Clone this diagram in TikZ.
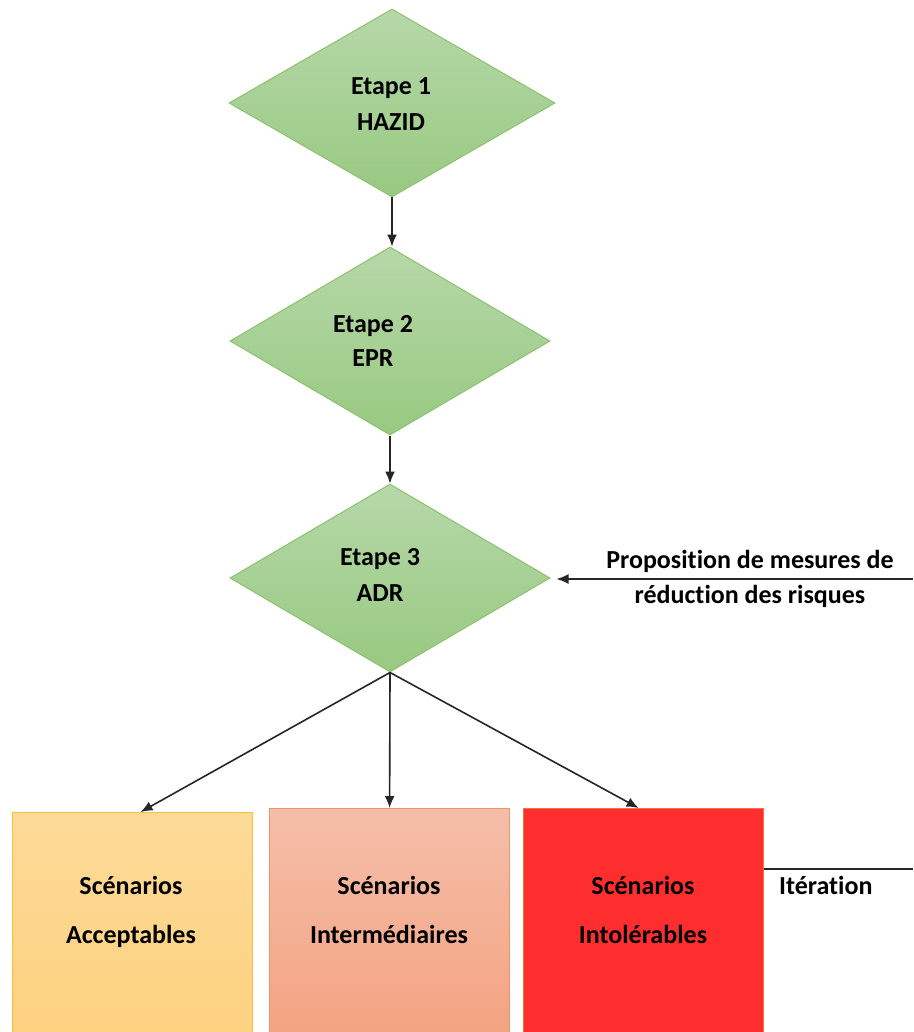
\documentclass[tikz,border=0pt]{standalone}
\usepackage{fontspec}
\setmainfont{Carlito}[Ligatures={NoCommon}]
\usetikzlibrary{shapes.geometric,arrows.meta}
\definecolor{gtop}{HTML}{B6D8A9}
\definecolor{gbot}{HTML}{98C981}
\definecolor{gline}{HTML}{8CC16E}
\definecolor{ytop}{HTML}{FDDA98}
\definecolor{ybot}{HTML}{FDD17E}
\definecolor{yline}{HTML}{F6C23E}
\definecolor{otop}{HTML}{F5BEA9}
\definecolor{obot}{HTML}{F3A27F}
\definecolor{oline}{HTML}{EE9466}
\definecolor{rfill}{HTML}{FF2E2E}
\definecolor{rline}{HTML}{F0743A}
\definecolor{aline}{HTML}{262626}
\begin{document}
\begin{tikzpicture}[x=1pt,y=-1pt,
  txt/.style={font=\bfseries\fontsize{26}{31}\selectfont, align=center, inner sep=0pt},
  dia/.style={diamond, draw=gline, line width=1pt, top color=gtop, bottom color=gbot,
    minimum width=326pt, minimum height=188pt, inner sep=0pt},
  boxst/.style={rectangle, draw=#1, line width=1.2pt, anchor=north west,
    minimum width=240pt, minimum height=240pt, inner sep=0pt},
  arr/.style={draw=aline, line width=1.6pt, -{Latex[length=12pt,width=10pt]}},
  plain/.style={draw=aline, line width=1.6pt}]
\useasboundingbox (0,0) rectangle (913,1032);
% diamonds
\node[dia] (d1) at (392,103) {};
\node[dia, minimum width=320pt] (d2) at (390,341) {};
\node[dia, minimum width=320pt] (d3) at (390,578) {};
\node[txt] (t1) at (391,104) {Etape 1\\[5pt]HAZID};
\node[txt] (t2) at (373,341) {Etape 2\\[3pt]EPR};
\node[txt] (t3) at (380,575) {Etape 3\\[5pt]ADR};
% boxes
\node[boxst=yline, top color=ytop, bottom color=ybot] (b1) at (12,812) {};
\node[boxst=oline, top color=otop, bottom color=obot] (b2) at (269,808) {};
\node[boxst=rline, fill=rfill] (b3) at (523,808) {};
\node[txt] (s1) at (131,912) {Scénarios\\[18pt]Acceptables};
\node[txt] (s2) at (389,910) {Scénarios\\[18pt]Intermédiaires};
\node[txt] (s3) at (643,910) {Scénarios\\[18pt]Intolérables};
% connectors
\draw[arr] (d1.south) -- (d1.south |- d2.north);
\draw[arr] (d2.south) -- (d3.north);
\draw[arr] (d3.south) -- ([xshift=8pt]b1.north);
\draw[arr] (d3.south) -- (b2.north);
\draw[arr] (d3.south) -- ([xshift=-5pt]b3.north);
\coordinate (pin) at (913,579);
\draw[arr, shorten >=6pt] (pin) -- (d3.east |- pin);
\node[txt] (prop) at (750,579) {Proposition de mesures de\\[4pt]réduction des risques};
\coordinate (itend) at (913,869);
\draw[plain] (b3.east |- itend) -- (itend);
\node[txt, anchor=west] (it) at (779,885) {Itération};
\end{tikzpicture}
\end{document}
